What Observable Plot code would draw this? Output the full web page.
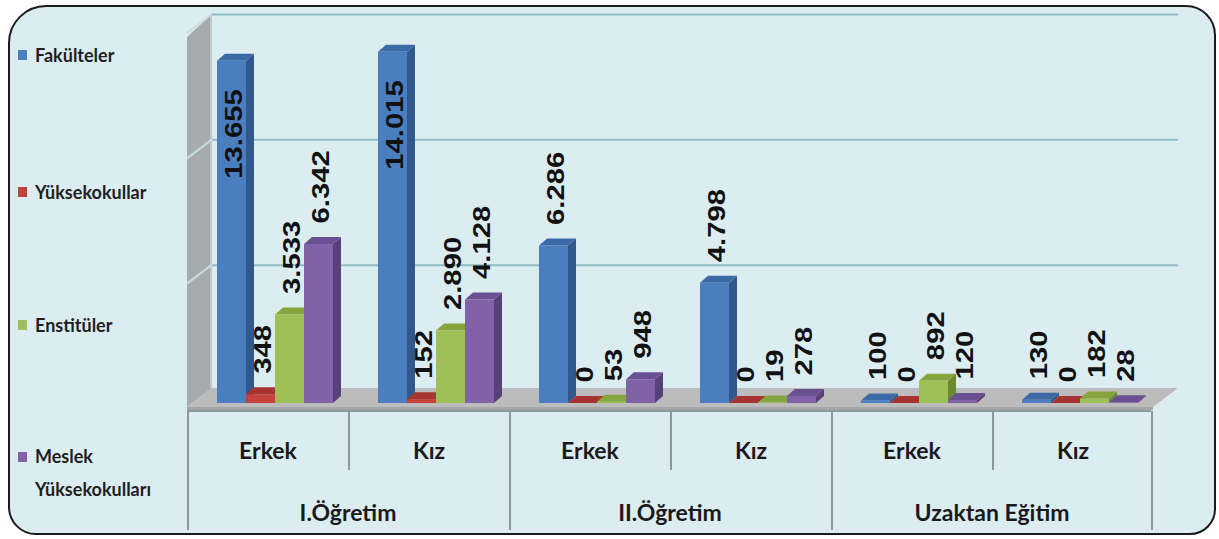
<!DOCTYPE html>
<html><head><meta charset="utf-8">
<script src="https://cdn.jsdelivr.net/npm/d3@7"></script>
<script src="https://cdn.jsdelivr.net/npm/@observablehq/plot@0.6"></script>
<style>
html,body{margin:0;padding:0;background:#fff;}
#wrap{position:relative;width:1219px;height:539px;overflow:hidden;}
#frame{position:absolute;left:8px;top:5px;width:1208px;height:530px;box-sizing:border-box;border:2px solid #1c1c1c;border-radius:38px 30px 26px 28px;background:#dcedf2;}
#legend{position:absolute;left:0;top:0;width:187px;height:539px;font-family:Lato,sans-serif;font-weight:700;font-size:18px;color:#1f1f1f;}
.item{position:absolute;left:18px;display:flex;align-items:flex-start;}
.sw{width:9px;height:10px;margin-right:8px;flex:none;}
#chart{position:absolute;left:187px;top:0;}
</style></head>
<body><div id="wrap"><div id="frame"></div><div id="legend"></div><div id="chart"></div></div>
<script>
// ---- data ----
const groups = ["I.Öğretim", "II.Öğretim", "Uzaktan Eğitim"];
const sexes = ["Erkek", "Kız"];
const seriesNames = ["Fakülteler", "Yüksekokullar", "Enstitüler", "Meslek Yüksekokulları"];
const fakulteler    = [13655, 14015, 6286, 4798, 100, 130];
const yuksekokullar = [348, 152, 0, 0, 0, 0];
const enstituler    = [3533, 2890, 53, 19, 892, 182];
const meslek        = [6342, 4128, 948, 278, 120, 28];
const gridTicks = [5000, 10000, 15000];

// ---- styles ----
const fronts = ["#4a7ebf", "#c4413c", "#9fc057", "#8162a8"];
const tops   = ["#3c6aa6", "#a53430", "#86a53f", "#6b5091"];
const sides  = ["#30588d", "#8a2a27", "#6c8a31", "#574178"];
const legendTops = [45, 182, 315, 440];

// ---- build table ----
const seriesValues = [fakulteler, yuksekokullar, enstituler, meslek];
const keys = [];
groups.forEach(g => sexes.forEach(s => keys.push(g + "|" + s)));
const rows = [];
seriesValues.forEach((vals, j) => vals.forEach((v, k) => rows.push({
  key: keys[k], group: groups[Math.floor(k / 2)], sex: sexes[k % 2], series: seriesNames[j], j, value: v
})));
const subs = keys.map(k => ({key: k, sex: k.split("|")[1]}));
const fmt = d3.formatLocale({decimal: ",", thousands: ".", grouping: [3], currency: ["", ""]}).format(",d");

// ---- legend ----
const legend = document.getElementById("legend");
seriesNames.forEach((name, j) => {
  const multi = j === 3;
  const lh = multi ? 33 : 20;
  const item = document.createElement("div");
  item.className = "item";
  item.style.top = legendTops[j] + "px";
  item.style.lineHeight = lh + "px";
  const sw = document.createElement("div");
  sw.className = "sw";
  sw.style.background = fronts[j];
  sw.style.marginTop = ((lh - 10) / 2) + "px";
  const tx = document.createElement("div");
  if (multi) { const p = name.split(" "); tx.innerHTML = p[0] + "<br>" + p.slice(1).join(" "); }
  else tx.textContent = name;
  item.appendChild(sw); item.appendChild(tx);
  legend.appendChild(item);
});

// ---- geometry ----
const W = 1032, H = 539, mL = 0, mR = 66, mT = 27, mB = 136;
const bw = (W - mL - mR) / keys.length;
const barW = 29, barOff = 30, bdx = 8, bdy = -7, wdx = 25, wdy = -13;
const bwOf = x => typeof x.bandwidth === "function" ? x.bandwidth() : x.bandwidth;

function wallMark(index, scales, values, dims) {
  const {y} = scales;
  const L = dims.marginLeft;
  const y0 = y(0), yT = y(15000);
  const g = d3.create("svg:g");
  g.append("polygon").attr("points", [[L, y0 + 4], [L, yT + 10], [L + wdx, yT + wdy], [L + wdx, y0 - 15]].join(" "))
    .attr("fill", "#a6acae");
  g.append("line").attr("x1", L + wdx - 1).attr("x2", L + wdx - 1).attr("y1", yT + wdy).attr("y2", y0 - 15)
    .attr("stroke", "#c3c9cb").attr("stroke-width", 2);
  gridTicks.forEach(v => {
    g.append("line").attr("x1", L).attr("y1", y(v) + 6).attr("x2", L + wdx).attr("y2", y(v) + wdy)
      .attr("stroke", "#c9dde1").attr("stroke-width", 2);
  });
  return g.node();
}

function floorMark(index, scales, values, dims) {
  const {y} = scales;
  const L = dims.marginLeft, R = dims.width - dims.marginRight;
  const y0 = y(0);
  const g = d3.create("svg:g");
  g.append("polygon").attr("points", [[L, y0 + 4], [R, y0 + 4], [R + wdx, y0 - 15], [L + wdx, y0 - 15]].join(" "))
    .attr("fill", "#bcbcbc");
  g.append("polygon").attr("points", [[L, y0 + 4], [R, y0 + 4], [R, y0 + 7], [L, y0 + 7]].join(" "))
    .attr("fill", "#a4a6a7");
  return g.node();
}

function extrusionMark(index, scales) {
  const {x, y} = scales;
  const y0 = y(0);
  const g = d3.create("svg:g");
  keys.forEach(k => {
    rows.filter(r => r.key === k).forEach(r => {
      const x0 = x(k) + barOff + barW * r.j, x1 = x0 + barW, yt = y(r.value);
      g.append("polygon").attr("points", [[x1, yt], [x1 + bdx, yt + bdy], [x1 + bdx, y0 + bdy], [x1, y0]].join(" "))
        .attr("fill", sides[r.j]);
      g.append("polygon").attr("points", [[x0, yt], [x0 + bdx, yt + bdy], [x1 + bdx, yt + bdy], [x1, yt]].join(" "))
        .attr("fill", tops[r.j]);
    });
  });
  return g.node();
}

function tableMark(index, scales, values, dims) {
  const {x, y} = scales;
  const b = bwOf(x);
  const L = dims.marginLeft, R = dims.width - dims.marginRight;
  const y0 = y(0);
  const g = d3.create("svg:g");
  const line = "#8b989c";
  g.append("line").attr("x1", L).attr("x2", R - 2).attr("y1", y0 + 8).attr("y2", y0 + 8)
    .attr("stroke", line).attr("stroke-width", 2);
  const edges = keys.map(k => x(k)).concat([x(keys[keys.length - 1]) + b - 2]);
  edges.forEach((ex, i) => {
    g.append("line").attr("x1", ex + 1).attr("x2", ex + 1).attr("y1", y0 + 8)
      .attr("y2", i % 2 === 0 ? 530 : 470).attr("stroke", line).attr("stroke-width", 2);
  });
  groups.forEach((gr, gi) => {
    const cx = x(keys[gi * 2]) + b;
    g.append("text").attr("x", cx).attr("y", 521).attr("text-anchor", "middle")
      .attr("font-family", "Lato, sans-serif").attr("font-weight", 700).attr("font-size", 23)
      .attr("fill", "#1a1a1a").text(gr);
  });
  return g.node();
}

const insideMin = 12000;
const barMarks = [], labelMarks = [];
seriesNames.forEach((s, j) => {
  const data = rows.filter(r => r.j === j);
  barMarks.push(Plot.barY(data, {
    x: "key", y: "value", fill: fronts[j],
    insetLeft: barOff + barW * j, insetRight: bw - barOff - barW * (j + 1)
  }));
  const cx = -bw / 2 + barOff + barW * j + barW / 2 + 2;
  const common = {x: "key", y: "value", text: d => fmt(d.value), rotate: -90, dx: cx,
    fontSize: 24, fontWeight: "bold", fontFamily: "Liberation Sans, Arial, sans-serif", fill: "#111"};
  labelMarks.push(Plot.text(data.filter(d => d.value < insideMin), {...common, textAnchor: "start", dy: -21}));
  labelMarks.push(Plot.text(data.filter(d => d.value >= insideMin), {...common, textAnchor: "end", dy: 28}));
});

const svg = Plot.plot({
  width: W, height: H,
  marginLeft: mL, marginRight: mR, marginTop: mT, marginBottom: mB,
  x: {type: "band", domain: keys, padding: 0, axis: null},
  y: {domain: [0, 15000], axis: null},
  style: {background: "transparent", overflow: "visible"},
  marks: [
    wallMark,
    Plot.ruleY(gridTicks, {stroke: "#8fbcc5", strokeWidth: 2, dx: wdx, dy: wdy}),
    floorMark,
    extrusionMark,
    ...barMarks,
    ...labelMarks,
    Plot.text(subs, {x: "key", text: "sex", frameAnchor: "bottom", lineAnchor: "middle", dy: 48,
      fontSize: 23, fontWeight: "bold", fontFamily: "Lato, sans-serif", fill: "#1a1a1a"}),
    tableMark
  ]
});
d3.select(svg).selectAll("text").each(function () {
  const t = this.getAttribute("transform");
  if (t && t.includes("rotate(-90)")) this.setAttribute("transform", t + " scale(1.22,1)");
});
document.getElementById("chart").appendChild(svg);
</script>
</body></html>
